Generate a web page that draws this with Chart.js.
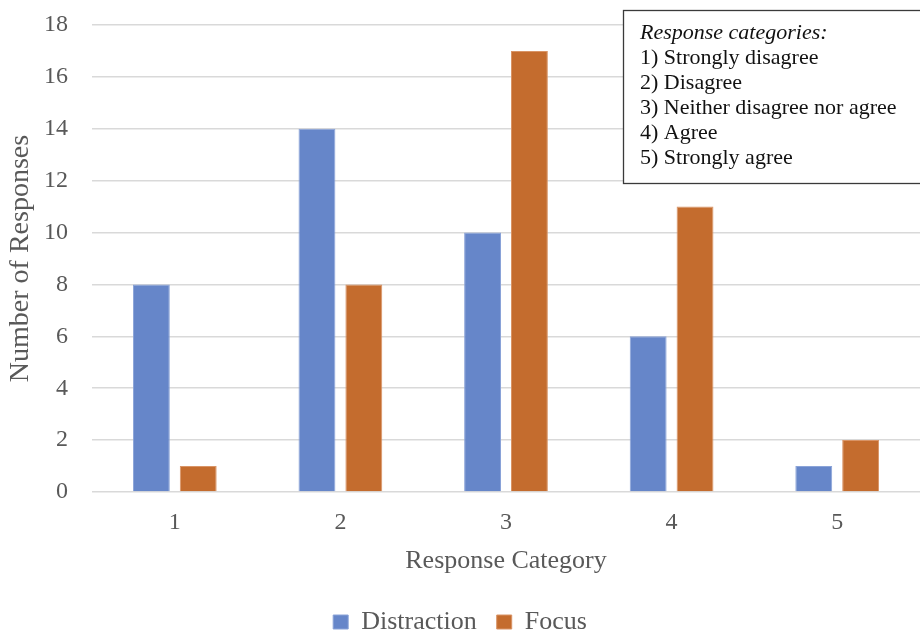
<!DOCTYPE html>
<html>
<head>
<meta charset="utf-8">
<script src="https://cdn.jsdelivr.net/npm/chart.js@4"></script>
<style>
html,body{margin:0;padding:0;background:#fff;}
#wrap{width:920px;height:631px;position:relative;}
</style>
</head>
<body>
<div id="wrap"><canvas id="c" width="920" height="631"></canvas></div>
<script>
const categories = ['1', '2', '3', '4', '5'];
const distraction = [8, 14, 10, 6, 1];
const focus = [1, 8, 17, 11, 2];
const yTicks = [0, 2, 4, 6, 8, 10, 12, 14, 16, 18];
const boxTitle = 'Response categories:';
const boxLines = ['1) Strongly disagree', '2) Disagree', '3) Neither disagree nor agree', '4) Agree', '5) Strongly agree'];

const FONT = '"Liberation Serif", "Times New Roman", serif';
const GRAY = '#595959';

const textBox = {
  id: 'textBox',
  afterDraw(chart) {
    const ctx = chart.ctx;
    ctx.save();
    ctx.fillStyle = '#fff';
    ctx.fillRect(623, 10, 305, 173);
    ctx.strokeStyle = '#3a3a3a';
    ctx.lineWidth = 1.3;
    ctx.strokeRect(623.5, 10.5, 305, 173);
    ctx.fillStyle = '#111';
    ctx.textBaseline = 'middle';
    ctx.textAlign = 'left';
    ctx.font = 'italic 22px ' + FONT;
    ctx.fillText(boxTitle, 640, 33);
    ctx.font = '22px ' + FONT;
    boxLines.forEach((t, i) => ctx.fillText(t, 640, 58 + i * 25));
    ctx.restore();
  }
};

new Chart(document.getElementById('c'), {
  type: 'bar',
  data: {
    labels: categories,
    datasets: [
      { label: 'Distraction', data: distraction, backgroundColor: '#6686c9', borderColor: '#8aa3d8', borderWidth: 1 },
      { label: 'Focus', data: focus, backgroundColor: '#c46c2e', borderColor: '#d99466', borderWidth: 1 }
    ]
  },
  options: {
    responsive: false,
    animation: false,
    devicePixelRatio: 1,
    categoryPercentage: 0.566,
    barPercentage: 0.787,
    layout: { padding: { top: 25, right: 0, left: 0, bottom: -14 } },
    plugins: {
      legend: {
        position: 'bottom',
        labels: {
          font: { family: FONT, size: 26 },
          color: GRAY,
          boxWidth: 15,
          boxHeight: 14,
          padding: 20
        }
      },
      tooltip: { enabled: false }
    },
    scales: {
      x: {
        afterFit(scale) { scale.height = 97; },
        grid: { display: false, drawTicks: false },
        border: { display: false },
        ticks: { font: { family: FONT, size: 24 }, color: GRAY, padding: 16 },
        title: { display: true, text: 'Response Category', font: { family: FONT, size: 26 }, color: GRAY, padding: { top: 0, bottom: 12 } }
      },
      y: {
        min: 0, max: 18,
        afterBuildTicks(scale) { scale.ticks = yTicks.map(v => ({ value: v })); },
        afterFit(scale) { scale.width = 92; scale.paddingTop = 0; scale.paddingBottom = 0; },
        grid: { color: '#d9d9d9', lineWidth: 1.5, drawTicks: false },
        border: { display: false },
        ticks: { font: { family: FONT, size: 24 }, color: GRAY, padding: 24 },
        title: { display: true, text: 'Number of Responses', font: { family: FONT, size: 28 }, color: GRAY, padding: { top: 4, bottom: 0 } }
      }
    }
  },
  plugins: [textBox]
});
</script>
</body>
</html>
